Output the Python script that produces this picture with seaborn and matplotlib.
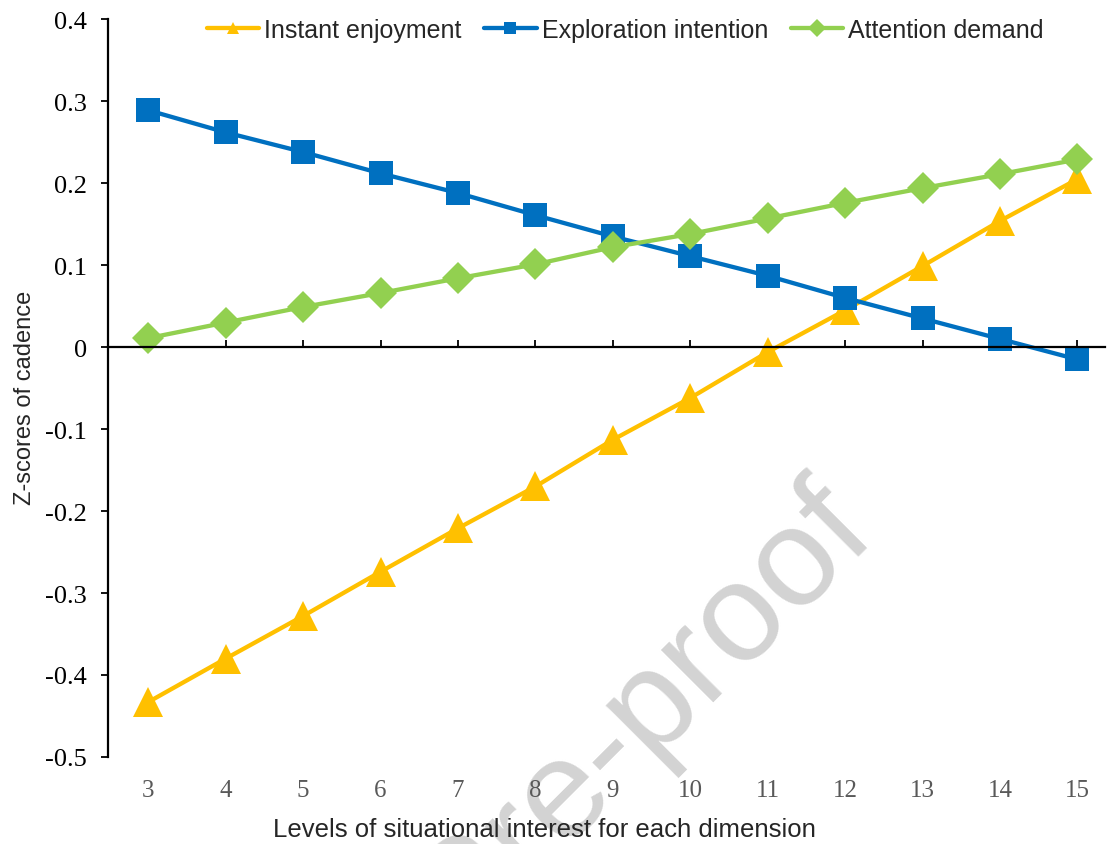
import numpy as np
import pandas as pd
import matplotlib
matplotlib.use("Agg")
import matplotlib.pyplot as plt
import seaborn as sns

sns.set_style("ticks")
plt.rcParams['font.family'] = ['Liberation Sans', 'DejaVu Sans']

# data
levels = [3, 4, 5, 6, 7, 8, 9, 10, 11, 12, 13, 14, 15]
instant_enjoyment = [-0.433, -0.380, -0.328, -0.274, -0.221, -0.170, -0.113,
                     -0.062, -0.006, 0.045, 0.099, 0.154, 0.205]
exploration_intention = [0.289, 0.262, 0.238, 0.212, 0.188, 0.161, 0.135,
                         0.111, 0.087, 0.060, 0.035, 0.010, -0.015]
attention_demand = [0.011, 0.030, 0.049, 0.066, 0.084, 0.101, 0.122,
                    0.138, 0.157, 0.176, 0.194, 0.211, 0.229]
y_ticks = [-0.5, -0.4, -0.3, -0.2, -0.1, 0, 0.1, 0.2, 0.3, 0.4]
y_tick_labels = ["-0.5", "-0.4", "-0.3", "-0.2", "-0.1", "0", "0.1", "0.2", "0.3", "0.4"]

series = [
    ("Instant enjoyment", instant_enjoyment, "#FFC000", "^", 22),
    ("Exploration intention", exploration_intention, "#0070C0", "s", 17),
    ("Attention demand", attention_demand, "#92D050", "D", 16),
]

fig = plt.figure(figsize=(11.09, 8.45), dpi=100)
fig.patch.set_facecolor('white')
ax = fig.add_axes([0.0974, 0.103, 0.8986, 0.873])
ax.set_facecolor('none')

for name, vals, col, mk, ms in series:
    df = pd.DataFrame({"level": levels, "z": vals})
    sns.lineplot(data=df, x="level", y="z", ax=ax, color=col, linewidth=3.1,
                 marker=mk, markersize=ms, markeredgewidth=0, label=name)

ax.set_xlim(2.48, 15.35)
ax.set_ylim(-0.5, 0.4)
ax.set_xticks(levels)
ax.set_yticks(y_ticks)
ax.set_yticklabels(y_tick_labels)

ax.spines['top'].set_visible(False)
ax.spines['right'].set_visible(False)
ax.spines['bottom'].set_position(('data', 0))
ax.spines['bottom'].set_linewidth(1.6)
ax.spines['left'].set_linewidth(1.6)
ax.spines['bottom'].set_color('black')
ax.spines['left'].set_color('black')

ax.tick_params(axis='x', direction='in', length=5, width=1.3, color='black',
               pad=311, labelsize=18, labelcolor='#595959')
ax.tick_params(axis='y', direction='out', length=5, width=1.3, color='black',
               pad=10, labelsize=19, labelcolor='black')
for lab in ax.get_xticklabels() + ax.get_yticklabels():
    lab.set_family(['Liberation Serif', 'DejaVu Serif'])

ax.set_xlabel("Levels of situational interest for each dimension", fontsize=18.5)
ax.set_ylabel("Z-scores of cadence", fontsize=17)
ax.xaxis.set_label_coords(0.438, -0.081)
ax.yaxis.set_label_coords(-0.072, 0.488)
ax.xaxis.label.set_verticalalignment('top')

leg = ax.legend(loc='center', bbox_to_anchor=(0.519, 0.986), ncol=3, frameon=False,
                fontsize=18, handlelength=2.1, handletextpad=0.2, columnspacing=0.9,
                borderaxespad=0)
for h in leg.get_lines():
    h.set_markersize(9)

# watermark, kept behind the axes
fig.text(0.792, 0.364, "Journal Pre-proof", fontsize=101, color='#d3d3d3',
         rotation=45, rotation_mode='anchor', ha='right', va='baseline', zorder=-1)

fig.savefig("out.png", dpi=100, facecolor='white')
